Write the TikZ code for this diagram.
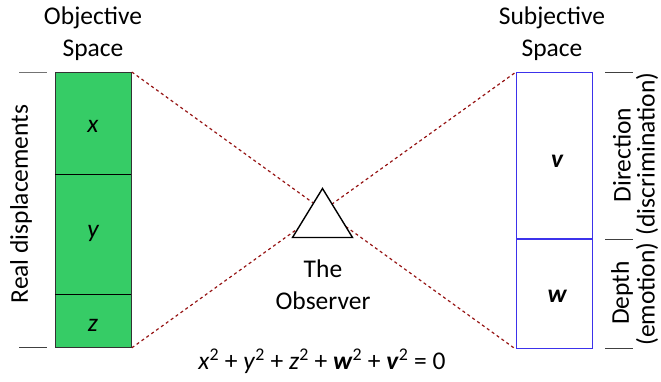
\documentclass[tikz,border=0pt]{standalone}
\usepackage{fontspec}
\setmainfont{Carlito}
\definecolor{boxgreen}{RGB}{54,204,102}
\definecolor{boxblue}{RGB}{60,50,235}
\definecolor{dashred}{RGB}{150,20,20}
\begin{document}
\begin{tikzpicture}[x=1pt,y=-1pt,
  lbl/.style={font=\fontsize{25.5}{32}\selectfont,inner sep=0pt,align=center},
  vlbl/.style={lbl,rotate=90},
  tick/.style={line width=1pt,color=black!75},
  sight/.style={dashred,line width=1.2pt,dash pattern=on 3pt off 3pt}]
\useasboundingbox (0,0) rectangle (661,381);
% objective column
\node[draw=black!80,fill=boxgreen,line width=0.8pt,minimum width=76pt,minimum height=275pt,inner sep=0pt,anchor=north west] (obj) at (55,72) {};
\draw[black,line width=0.8pt] (55,174) -- (131,174);
\draw[black,line width=0.8pt] (55,294) -- (131,294);
% subjective column
\node[draw=boxblue,line width=1.4pt,minimum width=76pt,minimum height=276pt,inner sep=0pt,anchor=north west] (subj) at (516,72) {};
\draw[boxblue,line width=1.4pt] (516,239) -- (592,239);
% sight lines
\draw[sight] (obj.north east) -- (subj.south west);
\draw[sight] (obj.south east) -- (subj.north west);
% observer triangle
\coordinate (apex) at (322.5,188.5);
\coordinate (bl) at (292.5,237.5);
\coordinate (br) at (352.5,237.5);
\draw[fill=white,line width=1.4pt,line join=miter] (apex) -- (bl) -- (br) -- cycle;
% ticks
\draw[tick,color=black!55] (19,72.5) -- (47,72.5);
\draw[tick] (19,347) -- (47,347);
\draw[tick] (605,72) -- (633,72);
\draw[tick] (605,239) -- (633,239);
\draw[tick] (605,348) -- (633,348);
% labels
\node[lbl] (objt) at (93,34) {Objective\\Space};
\node[lbl] (subt) at (552,34) {Subjective\\Space};
\node[vlbl] (real) at (21,204) {Real displacements};
\node[lbl] (lx) at (93,126) {\itshape x};
\node[lbl] (ly) at (93,233) {\itshape y};
\node[lbl] (lz) at (93,325) {\itshape z};
\node[lbl] (lv) at (557,161) {\bfseries\itshape v};
\node[lbl] (lw) at (557,296) {\bfseries\itshape w};
\node[vlbl] (dir) at (622,155) {Direction};
\node[vlbl] (disc) at (647,154) {(discrimination)};
\node[vlbl] (dep) at (622,293) {Depth};
\node[vlbl] (emo) at (647,294) {(emotion)};
\node[lbl] (obs) at (323,285) {The\\Observer};
\node[lbl] (eq) at (322,361) {\textit{x}\textsuperscript{2} + \textit{y}\textsuperscript{2} + \textit{z}\textsuperscript{2} + \textbf{\textit{w}}\textsuperscript{2} + \textbf{\textit{v}}\textsuperscript{2} = 0};
\end{tikzpicture}
\end{document}
